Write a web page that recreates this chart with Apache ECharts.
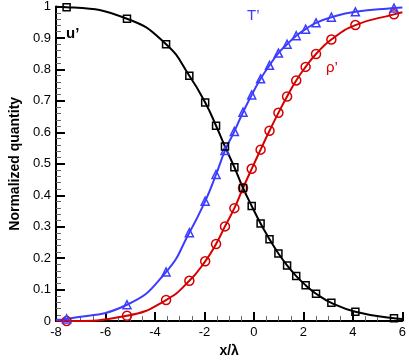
<!DOCTYPE html>
<html lang="en">
<head>
    <meta charset="UTF-8">
    <title>Normalized quantity</title>
    <script src="https://cdn.jsdelivr.net/npm/echarts@6/dist/echarts.min.js"></script>
    <style type="text/css">
        * { margin: 0; padding: 0; }
        html, body { height: 100%; background: #fff; }
    </style>
</head>
<body>
<div id="main" style="width: 409px;height:363px;"></div>
<script type="text/javascript">
    // marker positions (x/lambda), shared by the three profiles
    var xMarks = [-7.57, -5.13, -3.55, -2.61, -1.97, -1.53, -1.17, -0.79, -0.44, -0.09,
        0.27, 0.63, 0.99, 1.34, 1.71, 2.09, 2.51, 3.13, 4.10, 5.66];
    var uVals = [0.998, 0.961, 0.880, 0.780, 0.695, 0.621, 0.555, 0.489, 0.423, 0.366,
        0.310, 0.260, 0.215, 0.177, 0.143, 0.114, 0.087, 0.058, 0.030, 0.009];
    var tVals = [0.007, 0.052, 0.156, 0.281, 0.381, 0.466, 0.542, 0.603, 0.664, 0.719,
        0.770, 0.813, 0.852, 0.880, 0.907, 0.928, 0.948, 0.966, 0.983, 0.995];
    var rVals = [0.000, 0.017, 0.067, 0.128, 0.190, 0.245, 0.301, 0.359, 0.423, 0.484,
        0.545, 0.605, 0.662, 0.714, 0.765, 0.808, 0.849, 0.895, 0.941, 0.975];
    // curve values at the ends of the x range (x = -8 and x = 6)
    var xEnds = [-8, 6];
    var uEnds = [0.999, 0.007];
    var tEnds = [0.004, 0.997];
    var rEnds = [0.002, 0.982];

    var xTicks = [-8, -6, -4, -2, 0, 2, 4, 6];
    var yTicks = [0, 0.1, 0.2, 0.3, 0.4, 0.5, 0.6, 0.7, 0.8, 0.9, 1];

    var font = 'Liberation Sans, Arial, sans-serif';

    function build(vals, ends) {
        var d = [{value: [xEnds[0], ends[0]], symbol: 'none'}];
        for (var i = 0; i < xMarks.length; i++) {
            d.push([xMarks[i], vals[i]]);
        }
        d.push({value: [xEnds[1], ends[1]], symbol: 'none'});
        return d;
    }

    function line(name, vals, ends, color, symbol, size) {
        return {
            name: name,
            type: 'line',
            smooth: 0.5,
            data: build(vals, ends),
            symbol: symbol,
            symbolSize: size,
            showAllSymbol: true,
            lineStyle: {color: color, width: 2},
            itemStyle: {color: 'rgba(0,0,0,0)', borderColor: color, borderWidth: 1.5},
            emphasis: {disabled: true},
            z: 2
        };
    }

    var myChart = echarts.init(document.getElementById('main'));
    var option = {
        animation: false,
        grid: {left: 41, right: 4, top: 5, bottom: 30},
        xAxis: {
            type: 'value',
            min: xTicks[0],
            max: xTicks[xTicks.length - 1],
            interval: 2,
            name: 'x/λ',
            nameLocation: 'middle',
            nameGap: 15,
            nameTextStyle: {fontFamily: font, fontSize: 14, fontWeight: 'bold', color: '#000'},
            axisLine: {onZero: false, lineStyle: {color: '#000', width: 2}},
            axisTick: {inside: true, length: 9, lineStyle: {color: '#000', width: 2}},
            minorTick: {show: true, splitNumber: 4, length: 5, lineStyle: {color: '#666', width: 1}},
            axisLabel: {fontFamily: font, fontSize: 13, color: '#000', margin: 5},
            splitLine: {show: false}
        },
        yAxis: {
            type: 'value',
            min: yTicks[0],
            max: yTicks[yTicks.length - 1],
            interval: 0.1,
            name: 'Normalized quantity',
            nameLocation: 'middle',
            nameGap: 28,
            nameTextStyle: {fontFamily: font, fontSize: 14, fontWeight: 'bold', color: '#000'},
            axisLine: {show: true, onZero: false, lineStyle: {color: '#000', width: 2}},
            axisTick: {show: true, inside: true, length: 9, lineStyle: {color: '#000', width: 2}},
            minorTick: {show: true, splitNumber: 5, length: 5, lineStyle: {color: '#666', width: 1}},
            axisLabel: {fontFamily: font, fontSize: 13, color: '#000', margin: 5},
            splitLine: {show: false}
        },
        series: [
            line("ρ'", rVals, rEnds, '#d40000', 'circle', 9),
            line("T'", tVals, tEnds, '#3c3cff', 'triangle', 8),
            line("u'", uVals, uEnds, '#000000', 'rect', 7)
        ],
        graphic: [
            {type: 'text', left: 66, top: 26, style: {text: 'u’', font: 'bold 15px ' + font, fill: '#000'}},
            {type: 'text', left: 247, top: 8, style: {text: 'T’', font: '15px ' + font, fill: '#3c3cff'}},
            {type: 'text', left: 326, top: 60, style: {text: 'ρ’', font: '15px ' + font, fill: '#d40000'}}
        ]
    };
    myChart.setOption(option);
</script>
</body>
</html>
